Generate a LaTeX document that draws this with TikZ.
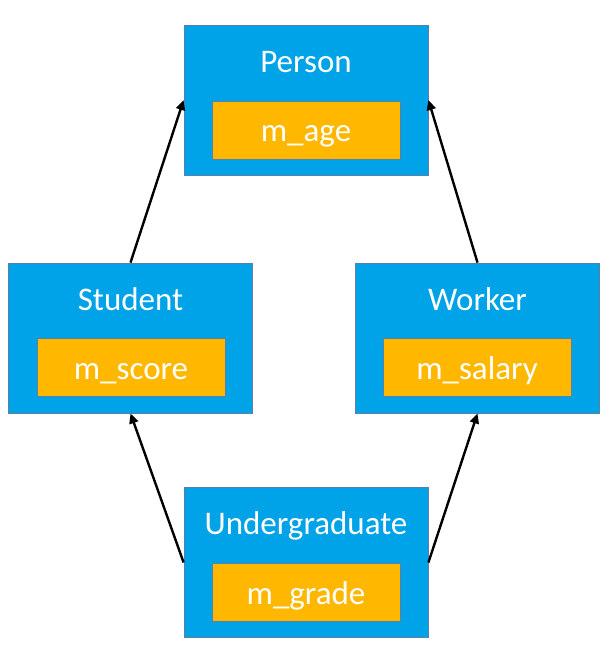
\documentclass[tikz,border=0pt]{standalone}
\usepackage{fontspec}
\setmainfont{Carlito}
\usetikzlibrary{arrows.meta}
\definecolor{classblue}{HTML}{00A2E8}
\definecolor{fieldgold}{HTML}{FFB700}
\definecolor{edgegrey}{HTML}{5B7FA6}

\begin{document}
\begin{tikzpicture}[
  x=1pt, y=-1pt,
  classbox/.style={
    draw=edgegrey, fill=classblue, line width=0.8pt,
    minimum width=244pt, minimum height=150pt, inner sep=0pt
  },
  fieldbox/.style={
    draw=edgegrey, fill=fieldgold, line width=0.8pt,
    minimum width=188pt, minimum height=58pt, inner sep=0pt
  },
  title/.style={text=white, font=\fontsize{33}{38}\selectfont, inner sep=0pt, anchor=base},
  arr/.style={-{Triangle[length=10pt, width=9pt]}, line width=2.4pt, black}
]
  \useasboundingbox (0,0) rectangle (609,647);

  % classes
  \node[classbox] (person) at (306,100) {};
  \node[fieldbox] (agebox) at (306,130) {};
  \node[title] (personname) at (306,73) {Person};
  \node[title] (age) at (306,142) {m\_age};

  \node[classbox] (student) at (130.5,338) {};
  \node[fieldbox] (scorebox) at (131,367.5) {};
  \node[title] (studentname) at (130.5,310) {Student};
  \node[title] (score) at (131,379) {m\_score};

  \node[classbox] (worker) at (477.5,338) {};
  \node[fieldbox] (salarybox) at (477,367.5) {};
  \node[title] (workername) at (477.5,310) {Worker};
  \node[title] (salary) at (477,379) {m\_salary};

  \node[classbox] (undergrad) at (306,562.5) {};
  \node[fieldbox] (gradebox) at (306,592.5) {};
  \node[title] (undergradname) at (306,534) {Undergraduate};
  \node[title] (grade) at (306,604) {m\_grade};

  % inheritance
  \draw[arr] (student.north) -- (person.west);
  \draw[arr] (worker.north) -- (person.east);
  \draw[arr] (undergrad.west) -- (student.south);
  \draw[arr] (undergrad.east) -- (worker.south);
\end{tikzpicture}
\end{document}
